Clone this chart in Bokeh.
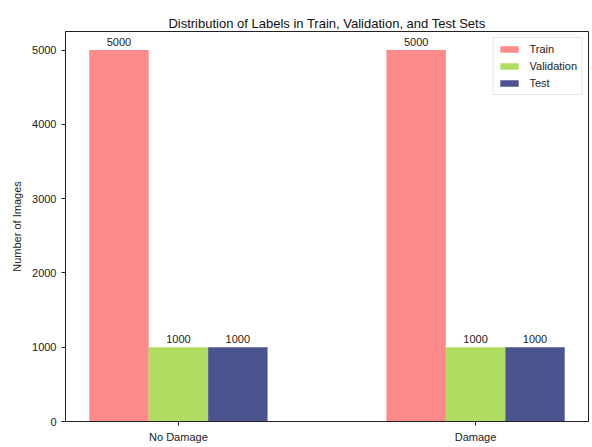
from bokeh.plotting import figure
from bokeh.models import ColumnDataSource, FixedTicker, Range1d, Legend, LegendItem, LabelSet
from bokeh.transform import dodge
from bokeh.core.properties import value
from bokeh.embed import file_html
from bokeh.resources import INLINE

categories = ["No Damage", "Damage"]
train = [5000, 5000]
validation = [1000, 1000]
test = [1000, 1000]
series_names = ["Train", "Validation", "Test"]
colors = ["#FF8A8A", "#B0DD62", "#4C548F"]
y_ticks = [0, 1000, 2000, 3000, 4000, 5000]

FONT = "Liberation Sans"

src = ColumnDataSource(dict(
    x=list(range(len(categories))),
    train=train, validation=validation, test=test,
    train_lbl=[str(v) for v in train],
    validation_lbl=[str(v) for v in validation],
    test_lbl=[str(v) for v in test],
))

p = figure(width=592, height=447, output_backend="svg", toolbar_location=None,
           x_range=Range1d(-0.38, 1.38), y_range=Range1d(0, 5250),
           min_border_left=65, min_border_right=4, min_border_top=31, min_border_bottom=26)

p.title.text = "Distribution of Labels in Train, Validation, and Test Sets"
p.title.text_font = FONT
p.title.text_font_size = "13px"
p.title.text_font_style = "normal"
p.title.align = "center"
p.title.text_color = "#111111"
p.title.standoff = 2

p.xgrid.visible = False
p.ygrid.visible = False
p.outline_line_color = "#222222"
p.outline_line_width = 1
p.background_fill_color = "white"
p.border_fill_color = "white"

offsets = [-0.2, 0.0, 0.2]
fields = ["train", "validation", "test"]
renderers = []
for f, off, c in zip(fields, offsets, colors):
    r = p.vbar(x=dodge("x", off), top=f, width=0.2, source=src, fill_color=c, line_color=None)
    renderers.append(r)
    lbl = LabelSet(x=dodge("x", off), y=f, text=f + "_lbl", source=src,
                   text_align="center", text_baseline="bottom", y_offset=4,
                   text_font=value(FONT), text_font_size=value("11px"), text_color="#222222")
    p.add_layout(lbl)

p.xaxis.ticker = FixedTicker(ticks=list(range(len(categories))))
p.xaxis.major_label_overrides = {i: c for i, c in enumerate(categories)}
p.yaxis.ticker = FixedTicker(ticks=y_ticks)
for ax in (p.xaxis, p.yaxis):
    ax.minor_tick_line_color = None
    ax.major_tick_in = 0
    ax.major_tick_out = 4
    ax.major_tick_line_color = "#222222"
    ax.axis_line_color = "#222222"
    ax.major_label_text_font = FONT
    ax.major_label_text_font_size = "11px"
    ax.major_label_text_color = "#222222"
    ax.major_label_standoff = 5
p.yaxis.axis_label = "Number of Images"
p.yaxis.axis_label_text_font = FONT
p.yaxis.axis_label_text_font_size = "11px"
p.yaxis.axis_label_text_font_style = "normal"
p.yaxis.axis_label_text_color = "#222222"
p.yaxis.axis_label_standoff = 6

legend = Legend(items=[LegendItem(label=n, renderers=[r]) for n, r in zip(series_names, renderers)],
                location="top_right")
legend.label_text_font = FONT
legend.label_text_font_size = "11px"
legend.label_text_color = "#222222"
legend.glyph_width = 23
legend.glyph_height = 8
legend.label_height = 14
legend.spacing = 3
legend.padding = 4
legend.margin = 6
legend.label_standoff = 9
legend.border_line_color = "#CCCCCC"
legend.border_line_width = 1
legend.background_fill_alpha = 0.8
p.add_layout(legend)

open("out.html", "w").write(file_html(p, INLINE))
